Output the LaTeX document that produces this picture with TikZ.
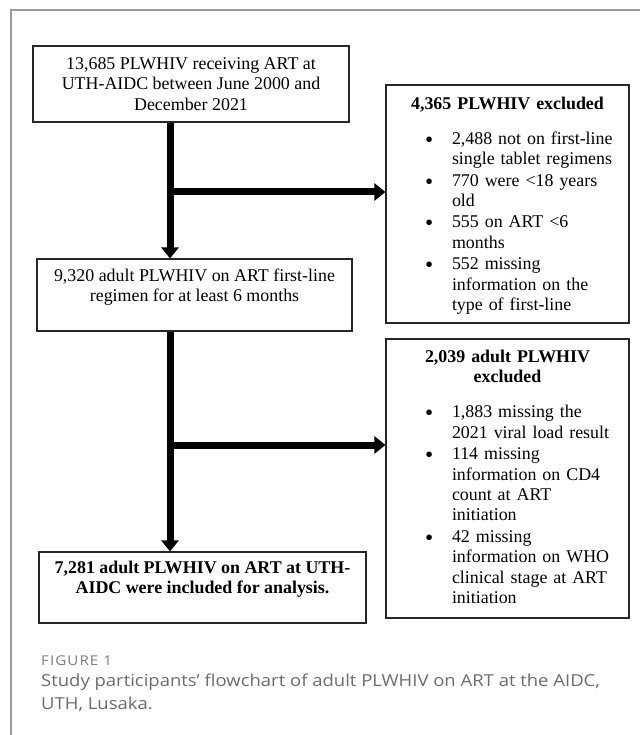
\documentclass[tikz,border=0pt]{standalone}
\usepackage{fontspec}
\setmainfont{Liberation Serif}
\newfontfamily\captionfont[FakeStretch=1.12]{Open Sans}
\newfontfamily\figfont[FakeStretch=1.12,LetterSpace=8]{Open Sans}
\usepackage{graphicx}
\usepackage{xcolor}
\usepackage{tikz}
\usetikzlibrary{arrows.meta}
\definecolor{framegray}{HTML}{9A9A9A}
\definecolor{capgray}{HTML}{6B6B6B}
\definecolor{figgray}{HTML}{7C7C7C}
\newcommand{\blt}{\raisebox{-0.17em}{\scalebox{1.3}{\textbullet}}}
\tikzstyle{arrow} = [line width=7pt,-{Triangle[width=17pt,length=11pt]}]
\tikzstyle{box} = [rectangle,
draw=black!85,
line width=1.1pt,
inner sep=0pt,
align=center,
font=\fontsize{17.9}{20.3}\selectfont]
\tikzstyle{exclbox} = [box, text width=243pt]
\tikzstyle{captext} = [inner sep=0pt, align=left, text=capgray,
font=\captionfont\fontsize{16.5}{23}\selectfont]

\begin{document}
\begin{tikzpicture}[x=1pt, y=-1pt]
            \useasboundingbox (0,0) rectangle (640,735);
            \draw [framegray, line width=1.3pt] (11,735) -- (11,10) -- (640,10);

            \node (start) [box, minimum width=316pt, minimum height=76pt] at (191,84)
                {13,685 PLWHIV receiving ART at\\UTH-AIDC between June 2000 and\\December 2021};
            \node (mid) [box, minimum width=315pt, minimum height=72pt] at (194.5,295)
                {9,320 adult PLWHIV on ART first-line\\regimen for at least 6 months\\\mbox{}};
            \node (final) [box, minimum width=327pt, minimum height=71pt] at (202.5,587.5)
                {\textbf{7,281 adult PLWHIV on ART at UTH-}\\\textbf{AIDC were included for analysis.}\\\mbox{}};

            \node (excl1) [exclbox, minimum height=238pt] at (507.5,204) {%
                \rule{0pt}{18pt}\textbf{4,365 PLWHIV excluded}\\[14.5pt]
                \begin{tabular}[t]{@{\hspace{39pt}}p{27pt}@{}p{177pt}@{}}
                    \blt & 2,488 not on first-line\\
                         & single tablet regimens\\[1.2pt]
                    \blt & 770 were <18 years\\
                         & old\\[1.2pt]
                    \blt & 555 on ART <6\\
                         & months\\[1.2pt]
                    \blt & 552 missing\\
                         & information on the\\
                         & type of first-line
                \end{tabular}};
            \node (excl2) [exclbox, minimum height=279pt] at (507.5,478.5) {%
                \rule{0pt}{15pt}\textbf{2,039 adult PLWHIV}\\\textbf{excluded}\\[14.7pt]
                \begin{tabular}[t]{@{\hspace{39pt}}p{27pt}@{}p{177pt}@{}}
                    \blt & 1,883 missing the\\
                         & 2021 viral load result\\[1.5pt]
                    \blt & 114 missing\\
                         & information on CD4\\
                         & count at ART\\
                         & initiation\\[1.5pt]
                    \blt & 42 missing\\
                         & information on WHO\\
                         & clinical stage at ART\\
                         & initiation
                \end{tabular}};

            % main line and the two side branches
            \coordinate (spine) at (170,0);
            \coordinate (b1) at (170,192);
            \coordinate (b2) at (170,445);
            \draw [arrow] (start.south -| spine) -- (mid.north -| spine);
            \draw [arrow] (b1) -- (b1 -| excl1.west);
            \draw [arrow] (mid.south -| spine) -- (final.north -| spine);
            \draw [arrow] (b2) -- (b2 -| excl2.west);

            \node (fignum) [anchor=base west, inner sep=0pt, text=figgray,
                font=\figfont\fontsize{13.5}{14}\selectfont] at (41,665) {FIGURE 1};
            \node (caption) [captext, anchor=base west] at (41,709)
                {Study participants’ flowchart of adult PLWHIV on ART at the AIDC,\\UTH, Lusaka.};
\end{tikzpicture}
\end{document}
